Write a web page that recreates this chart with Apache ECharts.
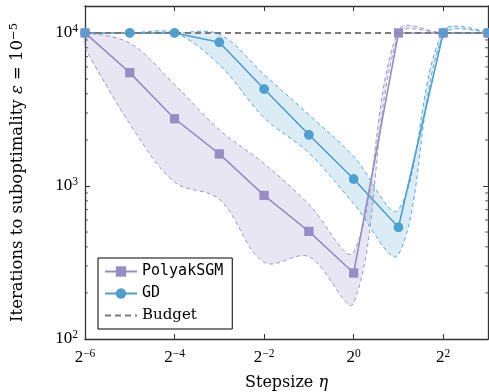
<!DOCTYPE html>
<html><head><meta charset="utf-8">
<script src="https://cdn.jsdelivr.net/npm/echarts@6/dist/echarts.min.js"></script>
<style>html,body{margin:0;padding:0;background:#fff}#c{width:489px;height:392px}</style>
</head><body><div id="c"></div>
<script>
// ---- data ----
const stepsizes   = [0.015625, 0.03125, 0.0625, 0.125, 0.25, 0.5, 1, 2, 4, 8];
const polyakMean  = [10000, 5500, 2750, 1620, 868, 505, 270, 10000, 10000, 10000];
const polyakUpper = [10000, 8600, 4600, 2330, 1400, 760, 370, 10400, 10000, 10000];
const polyakLower = [8000, 2550, 1060, 820, 317, 345, 172, 9700, 10000, 10000];
const gdMean      = [10000, 10000, 10000, 8690, 4300, 2160, 1110, 537, 10000, 10000];
const gdUpper     = [10000, 10000, 10000, 9800, 5340, 2920, 1560, 700, 10300, 10000];
const gdLower     = [10000, 10000, 10000, 6200, 2790, 1645, 767, 356, 9700, 10000];
const budgetValue = 10000;
const yMinorTicks = [200, 300, 400, 500, 600, 700, 800, 900, 2000, 3000, 4000, 5000, 6000, 7000, 8000, 9000];
const xMin = 0.015625, xMax = 8, yMin = 100, yMax = 15000;

// ---- style ----
const PURPLE = '#978dc4', BLUE = '#4c9fcf', GRAY = '#7a7a7a', AX = '#333';
const SERIF = 'Liberation Serif', SERIF2 = 'DejaVu Serif', MONO = 'DejaVu Sans Mono';
const SM = 0.35;

const zip = (xs, ys) => xs.map((x, i) => [x, ys[i]]);

const chart = echarts.init(document.getElementById('c'), null, {renderer: 'canvas'});

const supRich = {
  b: {fontFamily: SERIF, fontSize: 17, color: '#000', lineHeight: 20},
  s: {fontFamily: SERIF, fontSize: 11.5, color: '#000', verticalAlign: 'top', lineHeight: 12}
};

function bandSeries(name, lower, upper, color, fill) {
  return {
    name: name, type: 'custom', silent: true, z: 1,
    data: stepsizes.map((x, i) => [x, lower[i], upper[i]]),
    encode: {x: 0, y: [1, 2]},
    renderItem: (params, api) => {
      if (params.dataIndex !== 0) return null;
      const up = stepsizes.map((x, i) => api.coord([x, upper[i]]));
      const lo = stepsizes.map((x, i) => api.coord([x, lower[i]]));
      const dash = {stroke: color, lineWidth: 1, lineDash: [4, 3], fill: null, opacity: 0.9};
      return {type: 'group', children: [
        {type: 'polygon', shape: {points: up.concat(lo.slice().reverse()), smooth: SM},
         style: {fill: fill, stroke: null}},
        {type: 'polyline', shape: {points: up, smooth: SM}, style: dash},
        {type: 'polyline', shape: {points: lo, smooth: SM}, style: dash}
      ]};
    }
  };
}

const option = {
  animation: false,
  grid: {left: 85, right: 1, top: 6, bottom: 53, containLabel: false, outerBoundsMode: 'none'},
  legend: {
    data: ['PolyakSGM', 'GD', {name: 'Budget', itemStyle: {opacity: 0}}],
    orient: 'vertical', left: 98, top: 258,
    backgroundColor: '#fff', borderColor: '#000', borderWidth: 1, borderRadius: 0,
    padding: [6, 9, 6, 6], itemGap: 7, itemWidth: 32, itemHeight: 13,
    textStyle: {
      color: '#000', fontSize: 15,
      rich: {
        mono: {fontFamily: MONO, fontSize: 15, color: '#000'},
        serif: {fontFamily: SERIF2, fontSize: 15, color: '#000'}
      }
    },
    formatter: n => n === 'Budget' ? '{serif|' + n + '}' : '{mono|' + n + '}'
  },
  xAxis: [
    {type: 'log', logBase: 2, min: xMin, max: xMax, interval: 2,
     axisLine: {show: true, lineStyle: {color: AX, width: 1.3}},
     axisTick: {show: true, inside: true, length: 5, lineStyle: {color: AX, width: 1}},
     splitLine: {show: false},
     axisLabel: {color: '#000', margin: 9, showMaxLabel: false,
       formatter: v => { const e = Math.round(Math.log2(v)); return '{b|2}{s|' + (e < 0 ? '−' : '') + Math.abs(e) + '}'; },
       rich: supRich},
     name: 'Stepsize {i|η}', nameLocation: 'middle', nameGap: 36,
     nameTextStyle: {fontFamily: SERIF2, fontSize: 16, color: '#000',
       rich: {i: {fontFamily: SERIF2, fontStyle: 'italic', fontSize: 16, color: '#000'}}}},
    {type: 'log', logBase: 2, min: xMin, max: xMax, interval: 2, position: 'top',
     axisLine: {show: true, lineStyle: {color: AX, width: 1.3}},
     axisTick: {show: true, inside: true, length: 5, lineStyle: {color: AX, width: 1}},
     splitLine: {show: false}, axisLabel: {show: false}}
  ],
  yAxis: [
    {type: 'log', logBase: 10, min: yMin, max: yMax, interval: 1,
     axisLine: {show: true, lineStyle: {color: AX, width: 1.3}},
     axisTick: {show: true, inside: true, length: 5, lineStyle: {color: AX, width: 1}},
     splitLine: {show: false},
     axisLabel: {color: '#000', margin: 7, showMaxLabel: false,
       formatter: v => { const e = Math.round(Math.log10(v)); return '{b|10}{s|' + e + '}'; },
       rich: supRich},
     name: '{t|Iterations to suboptimality }{i|ε}{t| = 10}{s|−5}', nameLocation: 'middle', nameGap: 57, nameRotate: 90,
     nameTextStyle: {color: '#000',
       rich: {t: {fontFamily: SERIF2, fontSize: 16.5, color: '#000', lineHeight: 20},
              i: {fontFamily: SERIF2, fontStyle: 'italic', fontSize: 16.5, color: '#000', lineHeight: 20},
              s: {fontFamily: SERIF2, fontSize: 11.5, color: '#000', verticalAlign: 'top', lineHeight: 12}}}},
    {type: 'log', logBase: 10, min: yMin, max: yMax, interval: 1, position: 'right',
     axisLine: {show: true, lineStyle: {color: AX, width: 1.3}},
     axisTick: {show: true, inside: true, length: 5, lineStyle: {color: AX, width: 1}},
     splitLine: {show: false}, axisLabel: {show: false}}
  ],
  series: [
    bandSeries('gdBand', gdLower, gdUpper, BLUE, 'rgba(76,159,207,0.2)'),
    bandSeries('pBand', polyakLower, polyakUpper, PURPLE, 'rgba(151,141,196,0.22)'),
    {name: 'GD', type: 'line', data: zip(stepsizes, gdMean), z: 2,
     symbol: 'circle', symbolSize: 9.5, showAllSymbol: true,
     lineStyle: {color: BLUE, width: 1.6}, itemStyle: {color: BLUE}},
    {name: 'PolyakSGM', type: 'line', data: zip(stepsizes, polyakMean), z: 2,
     symbol: 'rect', symbolSize: 9, showAllSymbol: true,
     lineStyle: {color: PURPLE, width: 1.6}, itemStyle: {color: PURPLE}},
    {name: 'Budget', type: 'line', data: stepsizes.map(x => [x, budgetValue]), z: 3,
     symbol: 'none', lineStyle: {color: GRAY, width: 2, type: [6, 4]}, itemStyle: {color: GRAY}},
    {name: 'pMarks', type: 'scatter', data: zip(stepsizes, polyakMean), z: 4,
     symbol: 'rect', symbolSize: 9, itemStyle: {color: PURPLE}, silent: true},
    {name: 'gdMarks', type: 'scatter', data: zip(stepsizes, gdMean), z: 4,
     symbol: 'circle', symbolSize: 9.5, itemStyle: {color: BLUE}, silent: true},
    {name: 'minorTicks', type: 'custom', silent: true, z: 5, clip: false,
     data: yMinorTicks.map(v => [xMin, v]),
     encode: {x: 0, y: 1},
     renderItem: (params, api) => {
       const v = api.value(1);
       const l = api.coord([xMin, v]);
       const r = api.coord([xMax, v]);
       const st = {stroke: AX, lineWidth: 0.8};
       return {type: 'group', children: [
         {type: 'line', shape: {x1: l[0], y1: l[1], x2: l[0] + 3, y2: l[1]}, style: st},
         {type: 'line', shape: {x1: r[0], y1: r[1], x2: r[0] - 3, y2: r[1]}, style: st}
       ]};
     }}
  ]
};
chart.setOption(option);
</script></body></html>
